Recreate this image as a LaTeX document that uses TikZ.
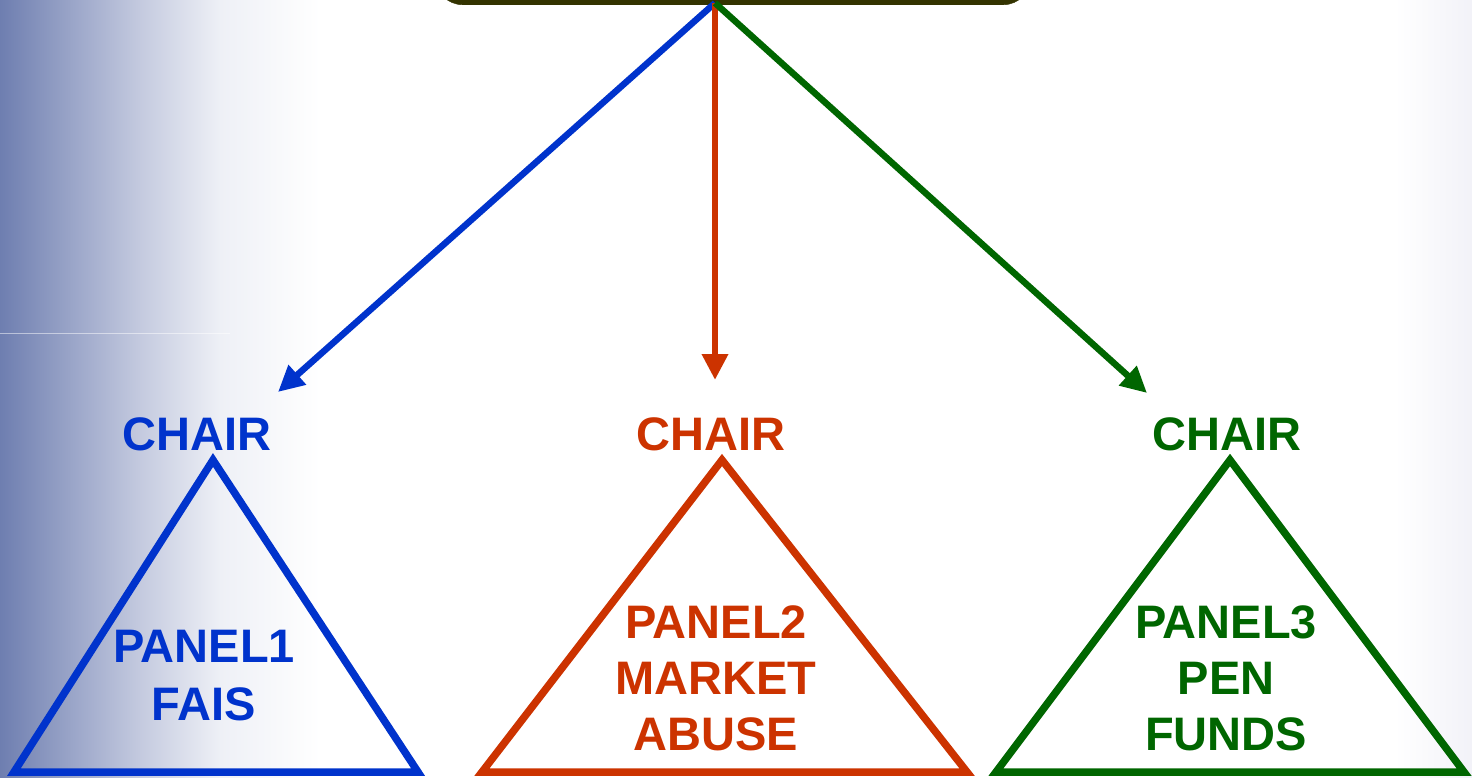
\documentclass[tikz,border=0pt]{standalone}
\usepackage{fontspec}
\setmainfont{Liberation Sans}
\usetikzlibrary{arrows.meta}
\definecolor{pblue}{RGB}{0,51,204}
\definecolor{pred}{RGB}{204,51,0}
\definecolor{pgreen}{RGB}{0,102,0}
\definecolor{olive}{RGB}{51,51,0}
\definecolor{bgleft}{RGB}{110,126,176}
\definecolor{bgmid}{RGB}{196,202,223}
\definecolor{bglight}{RGB}{238,240,246}
\tikzset{
  conn/.style={line width=6.5pt,-{Triangle[length=26pt,width=25pt]}},
  tri/.style={line width=7.5pt,line join=miter},
  lbl/.style={font=\fontsize{47}{56}\selectfont\bfseries,align=center,inner sep=0pt},
}
\begin{document}
\begin{tikzpicture}[x=1pt,y=-1pt]
\useasboundingbox (0,0) rectangle (1472,778);
% background
\fill[white] (0,0) rectangle (1472,778);
\shade[left color=bgleft,right color=bgmid] (0,0) rectangle (140,778);
\shade[left color=bgmid,right color=bglight] (140,0) rectangle (220,778);
\shade[left color=bglight,right color=white] (220,0) rectangle (320,778);
\shade[left color=white,right color={rgb,255:red,242;green,242;blue,248}] (1395,0) rectangle (1472,778);
\draw[white,opacity=0.5,line width=1pt] (0,333) -- (230,333);
% top box
\node[draw=olive,fill=olive,rounded corners=28pt,minimum width=596pt,minimum height=60pt,anchor=south] (top) at (733,5) {};
\coordinate (src) at (715,3);
% arrow tips
\coordinate (t1) at (278,392);
\coordinate (t2) at (715,380);
\coordinate (t3) at (1147,393);
\draw[conn,pblue] (src) -- (t1);
\draw[conn,pred] (src) -- (t2);
\draw[conn,pgreen] (src) -- (t3);
% chairs
\node[lbl,text=pblue] (c1) at (197,434) {CHAIR};
\node[lbl,text=pred] (c2) at (711,434) {CHAIR};
\node[lbl,text=pgreen] (c3) at (1227,434) {CHAIR};
% triangles
\coordinate (a1) at (213,460); \coordinate (l1) at (14,772); \coordinate (r1) at (418,772);
\coordinate (a2) at (722,460); \coordinate (l2) at (482,772); \coordinate (r2) at (967,772);
\coordinate (a3) at (1230,460); \coordinate (l3) at (996,772); \coordinate (r3) at (1464,772);
\draw[tri,pblue] (a1) -- (l1) -- (r1) -- cycle;
\draw[tri,pred] (a2) -- (l2) -- (r2) -- cycle;
\draw[tri,pgreen] (a3) -- (l3) -- (r3) -- cycle;
% panel labels
\node[lbl,text=pblue] (p1) at (204,676) {PANEL1\\[2pt]FAIS};
\node[lbl,text=pred] (p2) at (716,678) {PANEL2\\MARKET\\ABUSE};
\node[lbl,text=pgreen] (p3) at (1226,678) {PANEL3\\PEN\\FUNDS};
\end{tikzpicture}
\end{document}
